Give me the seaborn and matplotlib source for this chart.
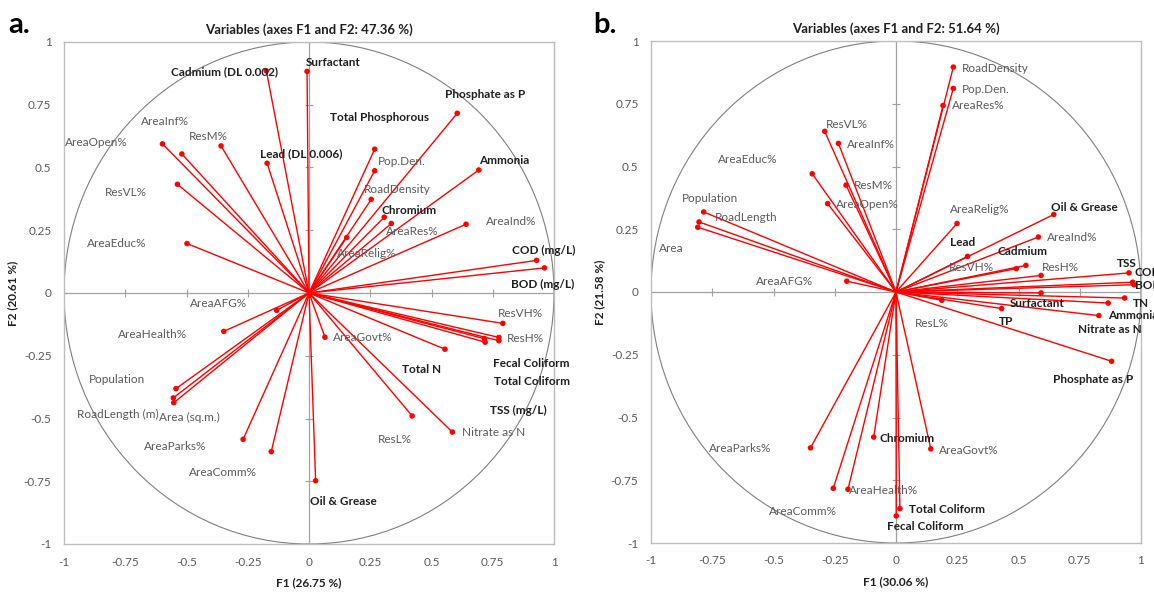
import numpy as np
import pandas as pd
import matplotlib
matplotlib.use("Agg")
import matplotlib.pyplot as plt
import seaborn as sns
from matplotlib.patches import Circle

sns.set_theme(style="white")
plt.rcParams['font.family'] = ['Lato', 'DejaVu Sans']

# ---------------- Panel a data ----------------
a_names = ["Surfactant", "Cadmium (DL 0.002)", "Phosphate as P", "Total Phosphorous",
           "AreaInf%", "ResM%", "AreaOpen%", "Lead (DL 0.006)", "Pop.Den.", "Ammonia",
           "ResVL%", "RoadDensity", "Chromium", "AreaRes%", "AreaInd%", "AreaEduc%",
           "AreaRelig%", "COD (mg/L)", "BOD (mg/L)", "AreaAFG%", "AreaHealth%",
           "Population", "RoadLength (m)", "Area (sq.m.)", "AreaParks%", "AreaComm%",
           "Oil & Grease", "AreaGovt%", "Total N", "ResL%", "Nitrate as N", "ResVH%",
           "ResH%", "TSS (mg/L)", "Fecal Coliform", "Total Coliform"]
a_f1 = [-0.008, -0.174, 0.605, 0.268, -0.519, -0.359, -0.598, -0.171, 0.268, 0.693,
        -0.537, 0.254, 0.307, 0.336, 0.641, -0.498, 0.154, 0.929, 0.961, -0.132,
        -0.348, -0.543, -0.554, -0.552, -0.269, -0.154, 0.027, 0.065, 0.555, 0.421,
        0.585, 0.791, 0.775, 0.775, 0.716, 0.719]
a_f2 = [0.883, 0.885, 0.716, 0.573, 0.554, 0.586, 0.594, 0.517, 0.487, 0.490,
        0.433, 0.373, 0.302, 0.277, 0.274, 0.197, 0.221, 0.130, 0.100, -0.069,
        -0.153, -0.381, -0.418, -0.437, -0.583, -0.632, -0.748, -0.176, -0.224, -0.490,
        -0.554, -0.121, -0.177, -0.190, -0.182, -0.196]
a_group = ["WQ", "WQ", "WQ", "WQ", "LU", "LU", "LU", "WQ", "LU", "WQ",
           "LU", "LU", "WQ", "LU", "LU", "LU", "LU", "WQ", "WQ", "LU",
           "LU", "LU", "LU", "LU", "LU", "LU", "WQ", "LU", "WQ", "LU",
           "LU", "LU", "LU", "WQ", "WQ", "WQ"]

# ---------------- Panel b data ----------------
b_names = ["RoadDensity", "Pop.Den.", "AreaRes%", "ResVL%", "AreaInf%", "AreaEduc%",
           "ResM%", "AreaOpen%", "Population", "RoadLength", "Area", "AreaAFG%",
           "AreaRelig%", "Oil & Grease", "AreaInd%", "Lead", "Cadmium", "ResVH%",
           "ResH%", "TSS", "COD", "BOD", "Surfactant", "ResL%", "TP", "TN", "Ammonia",
           "Nitrate as N", "Phosphate as P", "AreaParks%", "Chromium", "AreaGovt%",
           "AreaComm%", "AreaHealth%", "Total Coliform", "Fecal Coliform"]
b_f1 = [0.234, 0.234, 0.192, -0.291, -0.235, -0.342, -0.204, -0.279, -0.785, -0.804,
        -0.809, -0.201, 0.249, 0.644, 0.581, 0.292, 0.530, 0.491, 0.592, 0.951,
        0.966, 0.971, 0.592, 0.187, 0.431, 0.933, 0.866, 0.828, 0.880, -0.349,
        -0.091, 0.142, -0.256, -0.196, 0.016, 0.001]
b_f2 = [0.896, 0.811, 0.743, 0.640, 0.592, 0.471, 0.426, 0.352, 0.319, 0.279,
        0.258, 0.043, 0.273, 0.309, 0.219, 0.142, 0.106, 0.093, 0.066, 0.076,
        0.039, 0.029, -0.004, -0.033, -0.066, -0.024, -0.044, -0.094, -0.276, -0.621,
        -0.578, -0.625, -0.782, -0.786, -0.863, -0.892]
b_group = ["LU", "LU", "LU", "LU", "LU", "LU", "LU", "LU", "LU", "LU",
           "LU", "LU", "LU", "WQ", "LU", "WQ", "WQ", "LU", "LU", "WQ",
           "WQ", "WQ", "WQ", "LU", "WQ", "WQ", "WQ", "WQ", "WQ", "LU",
           "WQ", "LU", "LU", "LU", "WQ", "WQ"]

ticks = [-1, -0.75, -0.5, -0.25, 0, 0.25, 0.5, 0.75, 1]
tick_labels = ["-1", "-0.75", "-0.5", "-0.25", "0", "0.25", "0.5", "0.75", "1"]

# ---------------- label layout (left edge, vertical centre) ----------------
a_label_pos = {
    "Surfactant": (-0.014, 0.92), "Cadmium (DL 0.002)": (-0.564, 0.88),
    "Phosphate as P": (0.557, 0.792), "Total Phosphorous": (0.086, 0.699),
    "AreaInf%": (-0.687, 0.683), "ResM%": (-0.49, 0.623), "AreaOpen%": (-0.995, 0.6),
    "Lead (DL 0.006)": (-0.2, 0.554), "Pop.Den.": (0.28, 0.523), "Ammonia": (0.696, 0.529),
    "ResVL%": (-0.832, 0.4), "RoadDensity": (0.222, 0.413), "Chromium": (0.295, 0.33),
    "AreaRes%": (0.315, 0.244), "AreaInd%": (0.722, 0.284), "AreaEduc%": (-0.908, 0.196),
    "AreaRelig%": (0.116, 0.157), "COD (mg/L)": (0.829, 0.168), "BOD (mg/L)": (0.826, 0.035),
    "AreaAFG%": (-0.486, -0.04), "AreaHealth%": (-0.779, -0.164), "Population": (-0.9, -0.344),
    "RoadLength (m)": (-0.946, -0.482), "Area (sq.m.)": (-0.613, -0.497),
    "AreaParks%": (-0.673, -0.613), "AreaComm%": (-0.49, -0.715), "Oil & Grease": (0.005, -0.83),
    "AreaGovt%": (0.098, -0.178), "Total N": (0.378, -0.304), "ResL%": (0.28, -0.583),
    "Nitrate as N": (0.623, -0.555), "ResVH%": (0.769, -0.081), "ResH%": (0.809, -0.181),
    "Fecal Coliform": (0.752, -0.28), "Total Coliform": (0.756, -0.353),
    "TSS (mg/L)": (0.737, -0.47),
}
b_label_pos = {
    "RoadDensity": (0.267, 0.892), "Pop.Den.": (0.267, 0.807), "AreaRes%": (0.229, 0.743),
    "ResVL%": (-0.286, 0.666), "AreaInf%": (-0.202, 0.589), "AreaEduc%": (-0.725, 0.528),
    "ResM%": (-0.171, 0.426), "AreaOpen%": (-0.247, 0.348), "Population": (-0.875, 0.374),
    "RoadLength": (-0.74, 0.295), "Area": (-0.969, 0.173), "AreaAFG%": (-0.572, 0.043),
    "AreaRelig%": (0.219, 0.328), "Oil & Grease": (0.634, 0.338), "AreaInd%": (0.616, 0.217),
    "Lead": (0.222, 0.199), "Cadmium": (0.416, 0.16), "ResVH%": (0.214, 0.096),
    "ResH%": (0.596, 0.096), "TSS": (0.903, 0.112), "COD": (0.975, 0.076), "BOD": (0.975, 0.027),
    "Surfactant": (0.464, -0.046), "TN": (0.968, -0.046), "Ammonia": (0.866, -0.094),
    "ResL%": (0.079, -0.127), "TP": (0.419, -0.117), "Nitrate as N": (0.743, -0.15),
    "Phosphate as P": (0.641, -0.349), "Chromium": (-0.066, -0.584),
    "AreaParks%": (-0.763, -0.623), "AreaGovt%": (0.174, -0.63), "AreaHealth%": (-0.19, -0.79),
    "AreaComm%": (-0.517, -0.875), "Total Coliform": (0.052, -0.866),
    "Fecal Coliform": (-0.037, -0.935),
}

RED = "#ff0000"
GRAY_TXT = "#595959"
DARK_TXT = "#1f1f1f"


def draw_panel(ax, names, f1, f2, groups, label_pos, title, xlab, ylab):
    df = pd.DataFrame({"name": names, "F1": f1, "F2": f2, "group": groups})
    ax.set_xlim(-1, 1)
    ax.set_ylim(-1, 1)
    ax.add_patch(Circle((0, 0), 1, fill=False, ec="#7f7f7f", lw=0.8, zorder=1))
    ax.axhline(0, color="#a0a0a0", lw=0.9, zorder=1)
    ax.axvline(0, color="#a0a0a0", lw=0.9, zorder=1)
    ax.plot(ticks, np.zeros(len(ticks)), ls="none", marker="|", ms=6,
            mew=0.8, color="#a0a0a0", zorder=1)
    ax.plot(np.zeros(len(ticks)), ticks, ls="none", marker="_", ms=6,
            mew=0.8, color="#a0a0a0", zorder=1)
    for _, r in df.iterrows():
        ax.plot([0, r.F1], [0, r.F2], color=RED, lw=1.0, zorder=3)
    sns.scatterplot(data=df, x="F1", y="F2", color=RED, s=16, edgecolor="none",
                    ax=ax, zorder=4, legend=False)
    for _, r in df.iterrows():
        lx, ly = label_pos[r["name"]]
        bold = r.group == "WQ"
        ax.text(lx, ly, r["name"], ha="left", va="center", fontsize=8.5,
                fontweight="bold" if bold else "normal",
                color=DARK_TXT if bold else GRAY_TXT, zorder=5, clip_on=False)
    ax.set_xticks(ticks)
    ax.set_xticklabels(tick_labels)
    ax.set_yticks(ticks)
    ax.set_yticklabels(tick_labels)
    ax.tick_params(length=0, labelsize=8.5, colors=GRAY_TXT, pad=9)
    for sp in ax.spines.values():
        sp.set_color("#bdbdbd")
        sp.set_linewidth(1.0)
    ax.set_title(title, fontsize=9.5, fontweight="bold", color="#1f1f1f", pad=6)
    ax.set_xlabel(xlab, fontsize=8.5, fontweight="bold", color="#1f1f1f", labelpad=7)
    ax.set_ylabel(ylab, fontsize=8.5, fontweight="bold", color="#1f1f1f", labelpad=4)


fig = plt.figure(figsize=(11.54, 5.92), dpi=100)
ax_a = fig.add_axes([64 / 1154, 48 / 592, 490 / 1154, 502 / 592])
ax_b = fig.add_axes([651 / 1154, 49 / 592, 490 / 1154, 502 / 592])

draw_panel(ax_a, a_names, a_f1, a_f2, a_group, a_label_pos,
           "Variables (axes F1 and F2: 47.36 %)", "F1 (26.75 %)", "F2 (20.61 %)")
draw_panel(ax_b, b_names, b_f1, b_f2, b_group, b_label_pos,
           "Variables (axes F1 and F2: 51.64 %)", "F1 (30.06 %)", "F2 (21.58 %)")

fig.text(8 / 1154, 1 - 25 / 592, "a.", fontsize=21, fontweight="bold", va="center", color="black")
fig.text(593 / 1154, 1 - 25 / 592, "b.", fontsize=21, fontweight="bold", va="center", color="black")

fig.savefig("out.png", dpi=100)
